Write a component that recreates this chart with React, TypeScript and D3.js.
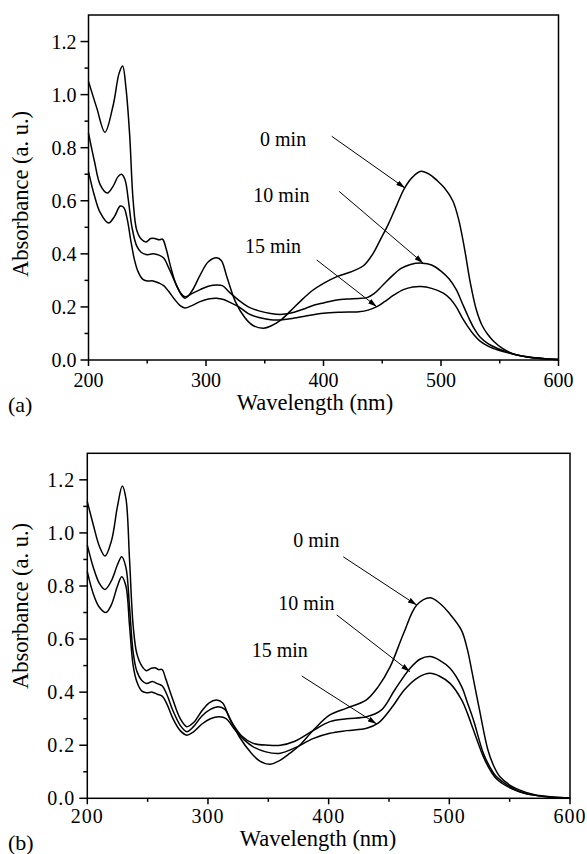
import React from "react";
import * as d3 from "d3";

// ---------- DATA ----------
const seriesNames = ["0 min", "10 min", "15 min"];
const xTicks = [200, 300, 400, 500, 600];
const yTicks = [0.0, 0.2, 0.4, 0.6, 0.8, 1.0, 1.2];

// Panel (a)
const aWl0 = [200, 207, 214, 221, 226, 229, 232, 235, 238, 241, 245, 249, 253, 257, 260, 263, 266, 270, 275, 282, 288, 295, 302, 309, 313, 318, 325, 333, 340, 349, 356, 363, 372, 380, 390, 400, 412, 425, 434, 442, 448, 455, 462, 469, 476, 483, 490, 497, 503, 510, 515, 520, 525, 530, 535, 540, 545, 552, 562, 575, 590, 600];
const aAbs0 = [1.05, 0.95, 0.858, 0.96, 1.08, 1.108, 1.02, 0.85, 0.6, 0.49, 0.455, 0.445, 0.458, 0.457, 0.453, 0.455, 0.42, 0.35, 0.28, 0.233, 0.26, 0.32, 0.37, 0.385, 0.375, 0.31, 0.22, 0.16, 0.13, 0.12, 0.13, 0.148, 0.185, 0.22, 0.26, 0.289, 0.315, 0.335, 0.355, 0.4, 0.45, 0.51, 0.58, 0.648, 0.69, 0.711, 0.7, 0.675, 0.648, 0.6, 0.53, 0.42, 0.29, 0.19, 0.13, 0.095, 0.07, 0.045, 0.022, 0.01, 0.004, 0.002];

const aWl10 = [200, 205, 210, 216, 221, 225, 228, 231, 234, 237, 241, 245, 250, 255, 260, 264, 268, 273, 278, 282, 288, 295, 302, 309, 314, 320, 328, 336, 345, 355, 365, 375, 385, 393, 400, 410, 420, 430, 437, 443, 450, 458, 466, 474, 484, 492, 500, 507, 513, 518, 523, 528, 533, 540, 545, 552, 562, 575, 590, 600];
const aAbs10 = [0.855, 0.75, 0.66, 0.629, 0.655, 0.69, 0.7, 0.68, 0.6, 0.5, 0.43, 0.405, 0.397, 0.4, 0.395, 0.384, 0.35, 0.3, 0.255, 0.238, 0.25, 0.265, 0.278, 0.283, 0.28, 0.255, 0.225, 0.2, 0.185, 0.175, 0.172, 0.18, 0.195, 0.208, 0.215, 0.225, 0.23, 0.232, 0.235, 0.25, 0.28, 0.315, 0.345, 0.36, 0.365, 0.358, 0.335, 0.305, 0.265, 0.215, 0.165, 0.12, 0.088, 0.062, 0.05, 0.037, 0.022, 0.01, 0.004, 0.002];

const aWl15 = [200, 205, 210, 217, 222, 227, 230, 233, 236, 239, 242, 246, 250, 255, 260, 264, 268, 273, 278, 282, 288, 295, 302, 309, 315, 320, 328, 336, 345, 355, 365, 375, 385, 400, 415, 430, 438, 445, 452, 460, 468, 476, 483, 492, 502, 508, 513, 518, 523, 528, 533, 540, 545, 552, 562, 575, 590, 600];
const aAbs15 = [0.71, 0.62, 0.555, 0.516, 0.54, 0.58, 0.575, 0.53, 0.45, 0.38, 0.335, 0.305, 0.298, 0.298, 0.29, 0.28, 0.26, 0.23, 0.205, 0.196, 0.205, 0.22, 0.23, 0.233, 0.228, 0.218, 0.2, 0.175, 0.16, 0.152, 0.152, 0.158, 0.166, 0.176, 0.18, 0.182, 0.188, 0.2, 0.22, 0.245, 0.265, 0.275, 0.277, 0.27, 0.252, 0.23, 0.2, 0.16, 0.125, 0.095, 0.072, 0.052, 0.043, 0.033, 0.022, 0.011, 0.004, 0.002];

// Panel (b)
const bWl0 = [200, 205, 210, 214.7, 220, 225, 229, 232, 235, 238, 241, 245, 249, 253, 256, 259, 262, 265, 271, 277, 282.4, 288, 295, 301, 307, 312, 318, 326, 335, 343, 351, 360, 368, 376, 388, 401, 415, 431, 441, 451, 462, 473, 484, 492, 500, 510, 515, 518.5, 525, 532, 537, 542, 550, 558.5, 570, 585, 600];
const bAbs0 = [1.118, 1.03, 0.95, 0.913, 0.97, 1.1, 1.177, 1.13, 0.9, 0.65, 0.546, 0.5, 0.481, 0.49, 0.492, 0.485, 0.485, 0.45, 0.37, 0.3, 0.27, 0.285, 0.33, 0.36, 0.37, 0.36, 0.3, 0.232, 0.175, 0.14, 0.128, 0.144, 0.17, 0.2, 0.26, 0.314, 0.34, 0.37, 0.42, 0.496, 0.62, 0.728, 0.756, 0.735, 0.697, 0.634, 0.56, 0.483, 0.333, 0.182, 0.12, 0.081, 0.05, 0.031, 0.014, 0.005, 0.002];

const bWl10 = [200, 205, 210, 214.7, 220, 225, 228.5, 232, 235, 238, 241, 245, 249, 254, 258, 262, 266, 271, 277, 282.4, 288, 295, 302, 308.5, 314, 320, 328, 337.5, 350, 360, 372, 387, 401, 415, 431.5, 443.8, 455, 467.5, 476, 484, 492, 500.6, 510.3, 515, 520, 528.2, 534, 539.2, 548, 558.5, 570, 585, 600];
const bAbs10 = [0.954, 0.87, 0.81, 0.787, 0.82, 0.88, 0.91, 0.87, 0.72, 0.55, 0.48, 0.445, 0.433, 0.44, 0.432, 0.424, 0.39, 0.33, 0.275, 0.251, 0.27, 0.31, 0.335, 0.345, 0.335, 0.285, 0.235, 0.207, 0.2, 0.2, 0.215, 0.255, 0.289, 0.3, 0.307, 0.333, 0.41, 0.49, 0.525, 0.534, 0.52, 0.49, 0.42, 0.36, 0.295, 0.17, 0.115, 0.081, 0.05, 0.025, 0.012, 0.004, 0.002];

const bWl15 = [200, 205, 210, 215.5, 220, 225, 228.5, 232, 235, 238, 241, 245, 249, 254, 258, 262, 266, 271, 277, 282.4, 288, 295, 302, 309.4, 315, 322, 330, 337.5, 348, 360, 372, 387, 401, 415, 431.5, 441, 452, 463, 474, 484, 492, 500.6, 510.3, 515, 520, 528.2, 534, 539.2, 548, 558.5, 570, 585, 600];
const bAbs15 = [0.854, 0.77, 0.72, 0.7, 0.73, 0.8, 0.835, 0.8, 0.65, 0.5, 0.44, 0.405, 0.398, 0.4, 0.392, 0.385, 0.355, 0.3, 0.255, 0.238, 0.25, 0.28, 0.3, 0.307, 0.3, 0.26, 0.22, 0.194, 0.175, 0.17, 0.19, 0.225, 0.245, 0.255, 0.264, 0.283, 0.34, 0.41, 0.455, 0.471, 0.46, 0.433, 0.37, 0.32, 0.257, 0.157, 0.105, 0.073, 0.045, 0.024, 0.012, 0.004, 0.002];

// Annotations in data units: [textWl, textAbs, arrowStartWl, arrowStartAbs, tipWl, tipAbs]
const aNotes = [
  [346, 0.805, 407, 0.843, 469.4, 0.648],
  [340.3, 0.597, 413.4, 0.635, 484.9, 0.365],
  [333.2, 0.403, 394.2, 0.377, 445.3, 0.201],
];
const bNotes = [
  [370.7, 0.948, 412.1, 0.91, 473, 0.728],
  [358.3, 0.709, 406.7, 0.691, 467.4, 0.477],
  [336.2, 0.534, 377.7, 0.461, 439.8, 0.28],
];

// ---------- LAYOUT ----------
const FONT = "Liberation Serif";

type PanelProps = {
  box: { left: number; right: number; top: number; bottom: number };
  series: { wl: number[]; abs: number[] }[];
  notes: number[][];
  tag: string;
  tagY: number;
  xTitle: { x: number; y: number };
  yTitle: { x: number; y: number };
  tickLabelY: number;
  spacing: number;
  id: string;
};

function Panel(p: PanelProps) {
  const { box } = p;
  const x = d3.scaleLinear().domain([200, 600]).range([box.left, box.right]);
  const y = d3.scaleLinear().domain([0, 1.3]).range([box.bottom, box.top]);
  const line = d3
    .line<[number, number]>()
    .x((d) => x(d[0]))
    .y((d) => y(d[1]))
    .curve(d3.curveCatmullRom.alpha(0.5));
  const xMinor = d3.range(250, 600, 100);
  const yMinor = d3.range(0.1, 1.3, 0.2);
  const fmt = d3.format(".1f");
  return (
    <g>
      <defs>
        <marker
          id={"arr" + p.id}
          viewBox="0 0 10 6"
          refX="10"
          refY="3"
          markerWidth="9"
          markerHeight="5.5"
          markerUnits="userSpaceOnUse"
          orient="auto"
        >
          <path d="M0,0 L10,3 L0,6 Z" fill="#000" />
        </marker>
      </defs>
      <rect
        x={box.left}
        y={box.top}
        width={box.right - box.left}
        height={box.bottom - box.top}
        fill="none"
        stroke="#000"
        strokeWidth={1.5}
      />
      {xTicks.map((t) => (
        <g key={"xt" + t}>
          <line x1={x(t)} x2={x(t)} y1={box.bottom} y2={box.bottom + 6} stroke="#000" strokeWidth={1.5} />
          <text
            x={x(t)}
            y={p.tickLabelY}
            textAnchor="middle"
            fontSize={20}
            fontFamily={FONT}
            letterSpacing={p.spacing}
          >
            {t}
          </text>
        </g>
      ))}
      {xMinor.map((t) => (
        <line key={"xm" + t} x1={x(t)} x2={x(t)} y1={box.bottom} y2={box.bottom + 3.5} stroke="#000" strokeWidth={1.5} />
      ))}
      {yTicks.map((t) => (
        <g key={"yt" + t}>
          <line x1={box.left - 8} x2={box.left} y1={y(t)} y2={y(t)} stroke="#000" strokeWidth={1.5} />
          <text
            x={box.left - 12}
            y={y(t)}
            dy="0.35em"
            textAnchor="end"
            fontSize={20}
            fontFamily={FONT}
            letterSpacing={p.spacing}
          >
            {fmt(t)}
          </text>
        </g>
      ))}
      {yMinor.map((t) => (
        <line key={"ym" + t} x1={box.left - 4} x2={box.left} y1={y(t)} y2={y(t)} stroke="#000" strokeWidth={1.5} />
      ))}
      {p.series.map((s, i) => (
        <path
          key={"s" + i}
          d={line(s.wl.map((w, k) => [w, s.abs[k]] as [number, number])) || ""}
          fill="none"
          stroke="#000"
          strokeWidth={1.5}
        />
      ))}
      {p.notes.map((n, i) => (
        <g key={"n" + i}>
          <text x={x(n[0])} y={y(n[1])} fontSize={20} fontFamily={FONT}>
            {seriesNames[i]}
          </text>
          <line
            x1={x(n[2])}
            y1={y(n[3])}
            x2={x(n[4])}
            y2={y(n[5])}
            stroke="#000"
            strokeWidth={1}
            markerEnd={`url(#arr${p.id})`}
          />
        </g>
      ))}
      <text x={p.xTitle.x} y={p.xTitle.y} textAnchor="middle" fontSize={22.5} fontFamily={FONT}>
        Wavelength (nm)
      </text>
      <text
        transform={`translate(${p.yTitle.x},${p.yTitle.y}) rotate(-90)`}
        textAnchor="middle"
        fontSize={22.5}
        fontFamily={FONT}
      >
        Absorbance (a. u.)
      </text>
      <text x={8} y={p.tagY} fontSize={22} fontFamily={FONT}>
        {p.tag}
      </text>
    </g>
  );
}

export default function App() {
  return (
    <svg
      width={587}
      height={854}
      style={{ position: "absolute", left: 0, top: 0, background: "#fff" }}
    >
      <rect width={587} height={854} fill="#fff" />
      <Panel
        id="a"
        box={{ left: 88.5, right: 558.5, top: 15, bottom: 360 }}
        series={[
          { wl: aWl0, abs: aAbs0 },
          { wl: aWl10, abs: aAbs10 },
          { wl: aWl15, abs: aAbs15 },
        ]}
        notes={aNotes}
        tag="(a)"
        tagY={412}
        xTitle={{ x: 315, y: 410 }}
        yTitle={{ x: 28, y: 194 }}
        tickLabelY={387}
        spacing={0}
      />
      <Panel
        id="b"
        box={{ left: 87.3, right: 570, top: 453.3, bottom: 798.3 }}
        series={[
          { wl: bWl0, abs: bAbs0 },
          { wl: bWl10, abs: bAbs10 },
          { wl: bWl15, abs: bAbs15 },
        ]}
        notes={bNotes}
        tag="(b)"
        tagY={850}
        xTitle={{ x: 318, y: 846 }}
        yTitle={{ x: 28, y: 606 }}
        tickLabelY={823}
        spacing={1}
      />
    </svg>
  );
}
